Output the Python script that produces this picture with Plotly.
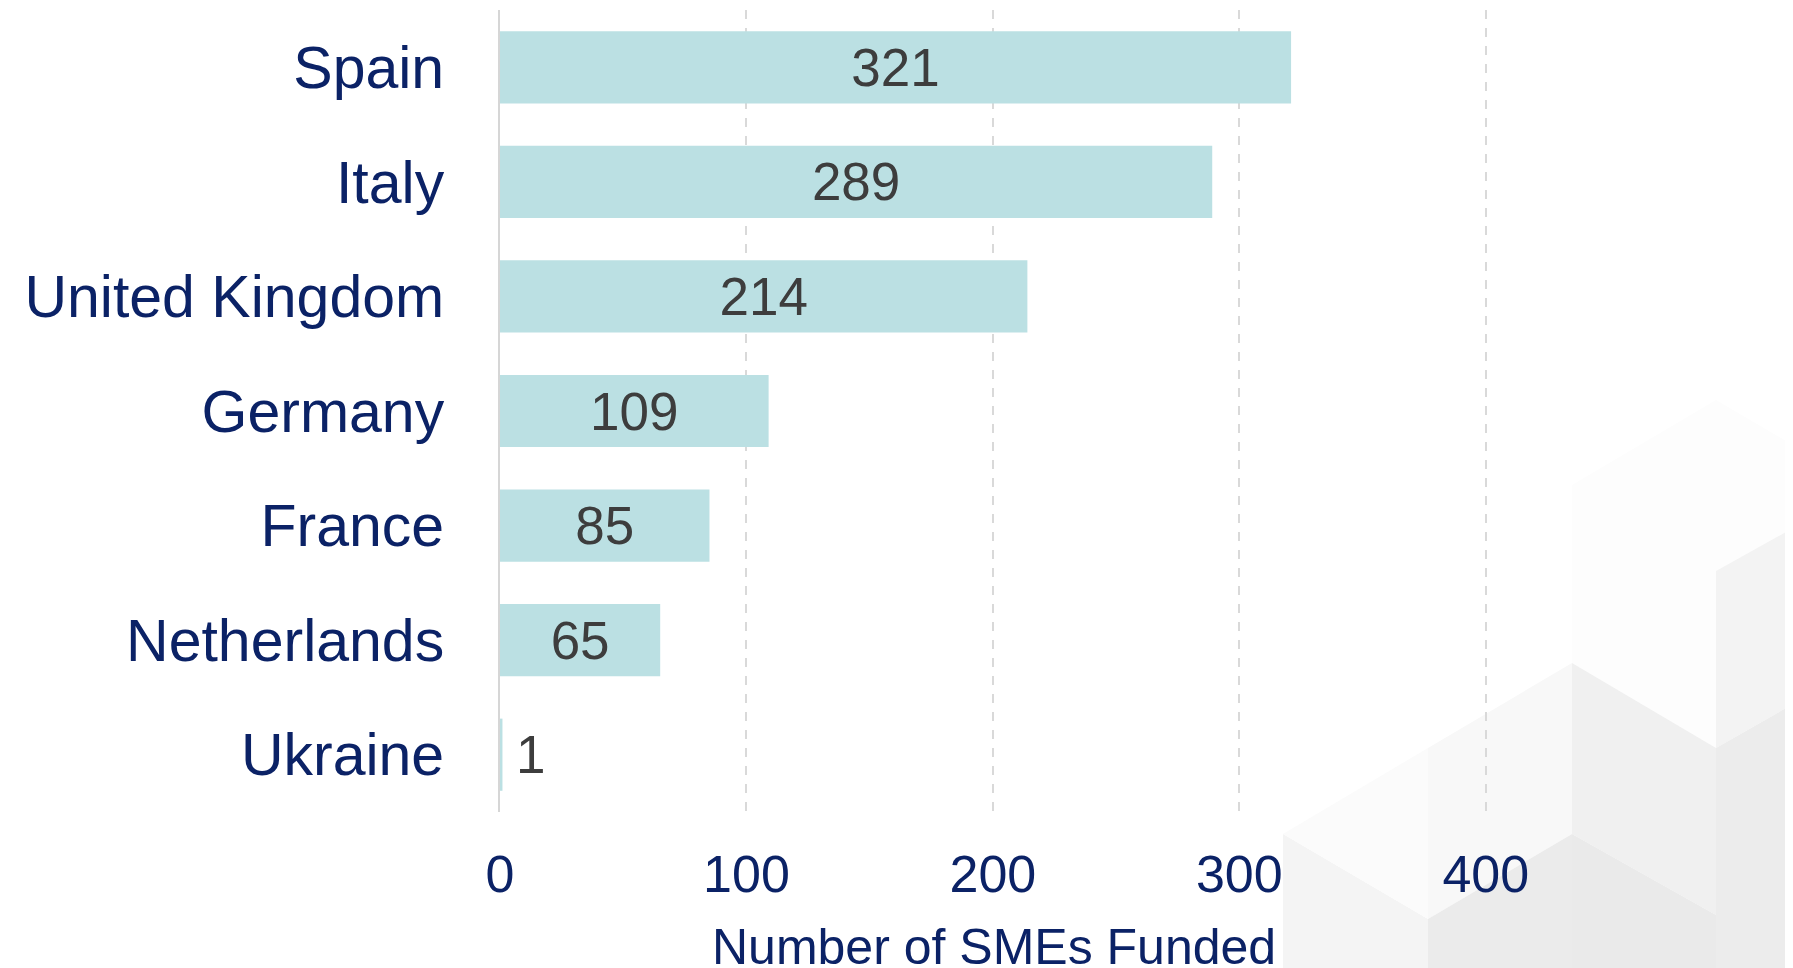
import plotly.graph_objects as go

countries = ["Spain", "Italy", "United Kingdom", "Germany", "France", "Netherlands", "Ukraine"]
smes_funded = [321, 289, 214, 109, 85, 65, 1]
x_ticks = [0, 100, 200, 300, 400]
x_title = "Number of SMEs Funded"

# the page body has an 8px default margin, so the figure is drawn 8px smaller
BODY = 8
W, H = 1793 - BODY, 968 - BODY
ML, MR, MT, MB = 492, 306, 2, 156
PW, PH = W - ML - MR, H - MT - MB

NAVY = "#0b2266"
FONT = "Liberation Sans, Arial, sans-serif"

positions = ["inside" if v > 20 else "outside" for v in smes_funded]
templates = ["%{x}" if p == "inside" else "\u2009%{x}" for p in positions]

fig = go.Figure(go.Bar(
    x=smes_funded,
    y=countries,
    orientation="h",
    marker=dict(color="#bbe0e3", line=dict(width=0)),
    texttemplate=templates,
    textposition=positions,
    insidetextanchor="middle",
    textfont=dict(family=FONT, size=53, color="#3d3d3d"),
    cliponaxis=False,
    hoverinfo="skip",
))


def px_to_paper(px, py):
    # px, py are page pixel coordinates
    fx, fy = px - BODY, py - BODY
    return (fx - ML) / PW, (H - MB - fy) / PH


def poly(points, color):
    pts = [px_to_paper(x, y) for x, y in points]
    path = "M " + " L ".join(f"{x:.5f},{y:.5f}" for x, y in pts) + " Z"
    return dict(type="path", xref="paper", yref="paper", path=path,
                fillcolor=color, line=dict(width=0), layer="below")


# decorative isometric background (page pixel coordinates)
shapes = [
    poly([(1572, 485), (1716, 400), (1793, 445), (1793, 528), (1716, 571), (1716, 748), (1572, 663)], "#fdfdfd"),
    poly([(1428, 748), (1572, 663), (1572, 834), (1428, 919)], "#f8f8f8"),
    poly([(1572, 663), (1716, 748), (1716, 915), (1572, 834)], "#f0f0f0"),
    poly([(1716, 571), (1793, 528), (1793, 704), (1716, 748)], "#f3f3f3"),
    poly([(1716, 748), (1793, 704), (1793, 968), (1716, 968)], "#ececec"),
    poly([(1283, 834), (1428, 919), (1428, 968), (1283, 968)], "#f4f4f4"),
    poly([(1428, 919), (1572, 834), (1572, 968), (1428, 968)], "#ebebeb"),
    poly([(1572, 834), (1716, 915), (1716, 968), (1572, 968)], "#eaeaea"),
    poly([(1283, 834), (1428, 748), (1428, 919)], "#fbfbfb"),
]

tx, ty = px_to_paper(0, 947)

fig.update_layout(
    width=W, height=H,
    margin=dict(l=ML, r=MR, t=MT, b=MB, pad=0),
    paper_bgcolor="white",
    plot_bgcolor="rgba(0,0,0,0)",
    bargap=0.37,
    showlegend=False,
    uniformtext=dict(minsize=53, mode="show"),
    font=dict(family=FONT, color=NAVY),
    shapes=shapes,
    annotations=[dict(
        text=x_title, xref="paper", yref="paper", x=0.5, y=ty,
        xanchor="center", yanchor="middle", showarrow=False,
        font=dict(family=FONT, size=50, color=NAVY),
    )],
    xaxis=dict(
        range=[0, 400.5],
        tickvals=x_ticks,
        ticktext=[str(t) for t in x_ticks],
        showgrid=True,
        gridcolor="#d9d9d9",
        gridwidth=1.5,
        griddash="dash",
        zeroline=False,
        showline=False,
        ticks="",
        ticklabelstandoff=27,
        tickfont=dict(family=FONT, size=52, color=NAVY),
    ),
    yaxis=dict(
        categoryorder="array",
        categoryarray=countries,
        autorange="reversed",
        showgrid=False,
        zeroline=False,
        showline=True,
        linecolor="#d6d6d6",
        linewidth=2,
        ticks="",
        ticklabelstandoff=42,
        tickfont=dict(family=FONT, size=59, color=NAVY),
    ),
)

fig.write_html("out.html")
